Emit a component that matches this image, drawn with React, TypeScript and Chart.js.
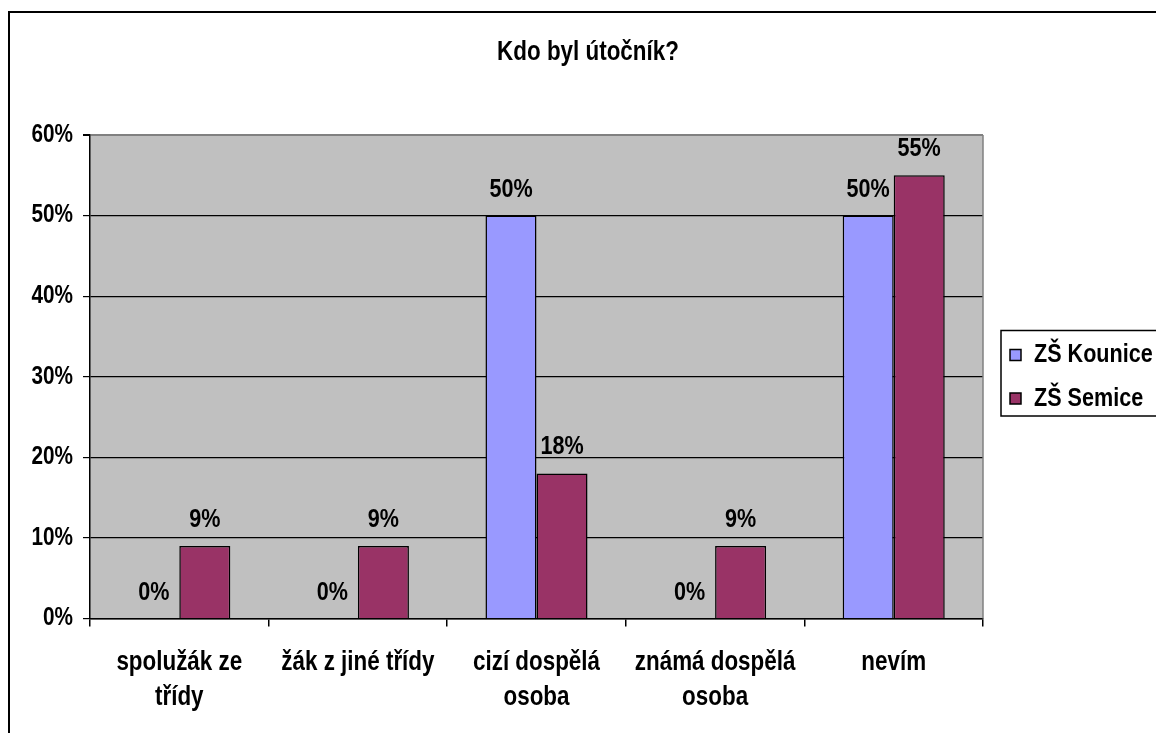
import { useEffect, useRef } from "react";
import { Chart, registerables } from "chart.js";

Chart.register(...registerables);

const TITLE = "Kdo byl útočník?";
const categories: (string | string[])[] = [
  ["spolužák ze", "třídy"],
  "žák z jiné třídy",
  ["cizí dospělá", "osoba"],
  ["známá dospělá", "osoba"],
  "nevím",
];
const seriesNames = ["ZŠ Kounice", "ZŠ Semice"];
const kounice = [0, 0, 50, 0, 50];
const semice = [9, 9, 18, 9, 55];
const yTicks = [0, 10, 20, 30, 40, 50, 60];

const FF = "'Liberation Sans', Arial, sans-serif";
const NARROW = 0.83;
const W = 1156;
const H = 733;

export default function App() {
  const ref = useRef<HTMLCanvasElement | null>(null);

  useEffect(() => {
    const canvas = ref.current;
    if (!canvas) return;
    const ctx2d: any = canvas.getContext("2d");
    if (!ctx2d.__narrow) {
      const origFill = ctx2d.fillText.bind(ctx2d);
      ctx2d.fillText = (t: string, x: number, y: number, mw?: number) => {
        ctx2d.save();
        ctx2d.translate(x, y);
        ctx2d.scale(NARROW, 1);
        if (mw !== undefined) origFill(t, 0, 0, mw / NARROW);
        else origFill(t, 0, 0);
        ctx2d.restore();
      };
      ctx2d.__narrow = true;
    }

    const frame = {
      id: "frame",
      beforeDraw(chart: any) {
        const { ctx, chartArea: a } = chart;
        ctx.save();
        ctx.fillStyle = "#C0C0C0";
        ctx.fillRect(a.left, a.top, a.right - a.left, a.bottom - a.top);
        ctx.strokeStyle = "#000";
        ctx.lineWidth = 2;
        ctx.strokeRect(9, 12, 1170, 740);
        ctx.restore();
      },
      afterDatasetsDraw(chart: any) {
        const { ctx, chartArea: a } = chart;
        ctx.save();
        ctx.strokeStyle = "#808080";
        ctx.lineWidth = 1.5;
        ctx.beginPath();
        ctx.moveTo(a.right, a.top);
        ctx.lineTo(a.right, a.bottom);
        ctx.stroke();
        ctx.fillStyle = "#000";
        ctx.font = `bold 26px ${FF}`;
        ctx.textAlign = "center";
        ctx.textBaseline = "alphabetic";
        chart.data.datasets.forEach((ds: any, i: number) => {
          const meta = chart.getDatasetMeta(i);
          meta.data.forEach((el: any, j: number) => {
            const p = el.getProps(["x", "y"], true);
            ctx.fillText(ds.data[j] + "%", p.x, p.y - 19);
          });
        });
        ctx.restore();
      },
      afterDraw(chart: any) {
        const lg = chart.legend;
        if (!lg || !lg.legendHitBoxes || !lg.legendHitBoxes.length) return;
        const hb = lg.legendHitBoxes;
        const { ctx } = chart;
        const top = hb[0].top - 11.5;
        const bottom = hb[hb.length - 1].top + hb[hb.length - 1].height + 4.5;
        ctx.save();
        ctx.strokeStyle = "#000";
        ctx.lineWidth = 1.5;
        ctx.strokeRect(lg.left + 8.5, top, 200, bottom - top);
        ctx.restore();
      },
    };

    const legendFix = {
      id: "legendFix",
      beforeLayout(chart: any) {
        const lg = chart.legend;
        if (lg && !lg.__patched) {
          const orig = lg.fit.bind(lg);
          lg.fit = function () {
            orig();
            this.width = 173;
          };
          lg.__patched = true;
        }
      },
      afterLayout(chart: any) {
        const lg = chart.legend;
        if (lg) {
          lg.left += 9.5;
          lg.right += 9.5;
        }
      },
    };

    const chart = new Chart(ctx2d, {
      type: "bar",
      data: {
        labels: categories as any,
        datasets: [
          {
            label: seriesNames[0],
            data: kounice,
            backgroundColor: "#9999FF",
            borderColor: "#000",
            borderWidth: 1.5,
            categoryPercentage: 2 / 3.5,
            barPercentage: 1,
          },
          {
            label: seriesNames[1],
            data: semice,
            backgroundColor: "#993366",
            borderColor: "#000",
            borderWidth: 1.5,
            categoryPercentage: 2 / 3.5,
            barPercentage: 1,
          },
        ],
      },
      options: {
        animation: false,
        responsive: false,
        maintainAspectRatio: false,
        layout: { padding: { left: 20, right: 0, top: 0, bottom: 0 } },
        plugins: {
          title: {
            display: true,
            text: TITLE,
            color: "#000",
            fullSize: true,
            font: { family: FF, size: 27, weight: "bold" },
            padding: { top: 36.3, bottom: 66.3 },
          },
          legend: {
            display: true,
            position: "right",
            align: "center",
            fullSize: false,
            labels: {
              boxWidth: 11,
              boxHeight: 11,
              padding: 17.5,
              color: "#000",
              font: { family: FF, size: 26, weight: "bold" },
            },
          },
          tooltip: { enabled: false },
        },
        scales: {
          x: {
            grid: {
              display: true,
              drawOnChartArea: false,
              drawTicks: true,
              tickLength: 8,
              tickColor: "#000",
              lineWidth: 1.5,
              offset: true,
            },
            border: { display: true, color: "#000", width: 1.5 },
            ticks: {
              color: "#000",
              font: { family: FF, size: 27, weight: "bold", lineHeight: 1.3 },
              padding: 18,
              maxRotation: 0,
              autoSkip: false,
            },
            afterFit: (s: any) => {
              s.height = 114.5;
            },
          },
          y: {
            min: 0,
            max: 60,
            afterBuildTicks: (s: any) => {
              s.ticks = yTicks.map((v) => ({ value: v }));
            },
            ticks: {
              color: "#000",
              font: { family: FF, size: 25, weight: "bold" },
              padding: 10,
              callback: (v: any) => v + "%",
            },
            grid: {
              color: (c: any) => (c.tick && c.tick.value === 60 ? "#808080" : "#000"),
              lineWidth: (c: any) => (c.tick && c.tick.value === 60 ? 2 : 1.2),
              tickColor: "#000",
              tickLength: 7,
            },
            border: { display: true, color: "#000", width: 1.5 },
            afterFit: (s: any) => {
              s.width = 70;
            },
          },
        },
      },
      plugins: [legendFix, frame],
    } as any);

    return () => chart.destroy();
  }, []);

  return (
    <div style={{ position: "absolute", left: 0, top: 0, width: W, height: H }}>
      <canvas ref={ref} width={W} height={H} style={{ display: "block" }} />
    </div>
  );
}
